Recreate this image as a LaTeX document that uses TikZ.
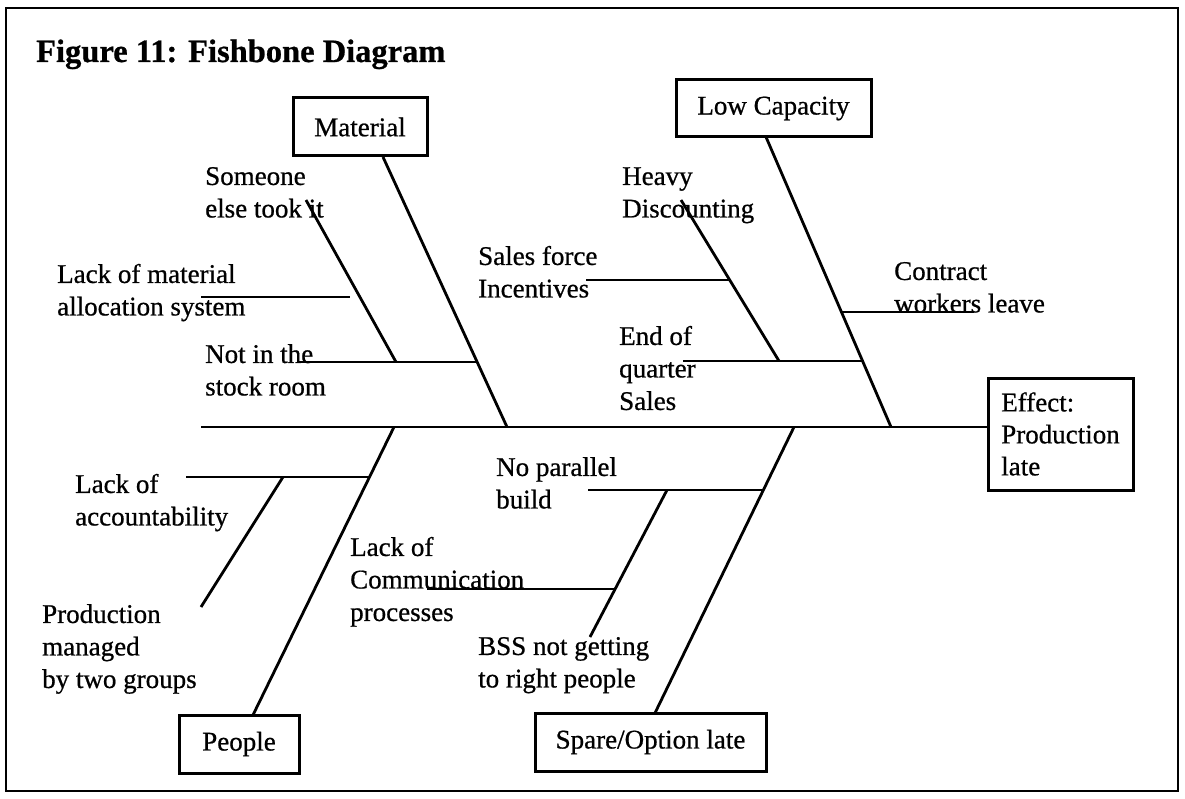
\documentclass[tikz,border=0pt]{standalone}
\usepackage{fontspec}
\setmainfont{Liberation Serif}[FakeBold=0.7]
\newfontfamily\titlefont{Liberation Serif}[FakeBold=0.7]
\begin{document}
\begin{tikzpicture}[x=1pt,y=-1pt,
  bone/.style={line width=2.8pt},
  box/.style={draw, line width=3pt, inner sep=0pt, align=center,
    font=\fontsize{27}{32}\selectfont},
  lbl/.style={anchor=north west, align=left, inner sep=0pt,
    font=\fontsize{27}{32.5}\selectfont},
]
\useasboundingbox (0,0) rectangle (1185,799);
\draw[line width=2pt] (6,8) rectangle (1178,791);

% title
\node[anchor=base west, inner sep=0pt, font=\titlefont\fontsize{32.5}{38}\selectfont\bfseries] (title) at (36,62) {Figure 11: Fishbone Diagram};

% category boxes
\node[box, minimum width=134pt, minimum height=58pt] (mat) at (360,127) {Material};
\node[box, minimum width=195pt, minimum height=57pt] (cap) at (773.5,108.5) {Low Capacity};
\node[box, minimum width=145pt, minimum height=112pt, align=left] (eff) at (1060.5,434) {Effect:\\Production\\late};
\node[box, minimum width=120pt, minimum height=58pt] (ppl) at (239,744) {People};
\node[box, minimum width=231pt, minimum height=58pt] (spr) at (650.5,742) {Spare/Option late};

% joint coordinates
\coordinate (sp0) at (201,427);
\coordinate (mtop) at (383,157);
\coordinate (ctop) at (766,137);
\coordinate (pbot) at (253,715);
\coordinate (sbot) at (655,713);
\coordinate (jm) at (507,427);
\coordinate (jc) at (891,427);
\coordinate (jp) at (394,427);
\coordinate (js) at (794,427);

% spine and main bones
\draw[bone] (sp0) -- (sp0 -| eff.west);
\draw[bone] (mtop) -- (jm);
\draw[bone] (ctop) -- (jc);
\draw[bone] (jp) -- (pbot);
\draw[bone] (js) -- (sbot);

% material sub-bones
\coordinate (a1) at (306,200); \coordinate (a2) at (396,362);
\coordinate (a3) at (299,362); \coordinate (a4) at (477,362);
\coordinate (a5) at (201,297); \coordinate (a6) at (350,297);
\draw[bone] (a1) -- (a2);
\draw[bone] (a3) -- (a4);
\draw[bone] (a5) -- (a6);

% capacity sub-bones
\coordinate (b1) at (681,200); \coordinate (b2) at (779,361);
\coordinate (b3) at (586,280); \coordinate (b4) at (730,280);
\coordinate (b5) at (683,361); \coordinate (b6) at (863,361);
\coordinate (b7) at (841,312); \coordinate (b8) at (974,312);
\draw[bone] (b1) -- (b2);
\draw[bone] (b3) -- (b4);
\draw[bone] (b5) -- (b6);
\draw[bone] (b7) -- (b8);

% people sub-bones
\coordinate (c1) at (186,477); \coordinate (c2) at (369,477);
\coordinate (c3) at (283,477); \coordinate (c4) at (201,607);
\draw[bone] (c1) -- (c2);
\draw[bone] (c3) -- (c4);

% spare sub-bones
\coordinate (d1) at (588,490); \coordinate (d2) at (764,490);
\coordinate (d3) at (667,490); \coordinate (d4) at (590,637);
\coordinate (d5) at (427,589); \coordinate (d6) at (616,589);
\draw[bone] (d1) -- (d2);
\draw[bone] (d3) -- (d4);
\draw[bone] (d5) -- (d6);

% labels
\node[lbl] (l1) at (205,162) {\strut Someone\\else took it};
\node[lbl] (l2) at (57,260) {\strut Lack of material\\allocation system};
\node[lbl] (l3) at (205,340) {\strut Not in the\\stock room};
\node[lbl] (l4) at (478,242) {\strut Sales force\\Incentives};
\node[lbl] (l5) at (622,162) {\strut Heavy\\Discounting};
\node[lbl] (l6) at (894,257) {\strut Contract\\workers leave};
\node[lbl] (l7) at (619,322) {\strut End of\\quarter\\Sales};
\node[lbl] (l8) at (75,470) {\strut Lack of\\accountability};
\node[lbl] (l9) at (42,600) {\strut Production\\managed\\by two groups};
\node[lbl] (l10) at (350,533) {\strut Lack of\\Communication\\processes};
\node[lbl] (l11) at (496,453) {\strut No parallel\\build};
\node[lbl] (l12) at (478,632) {\strut BSS not getting\\to right people};
\end{tikzpicture}
\end{document}
